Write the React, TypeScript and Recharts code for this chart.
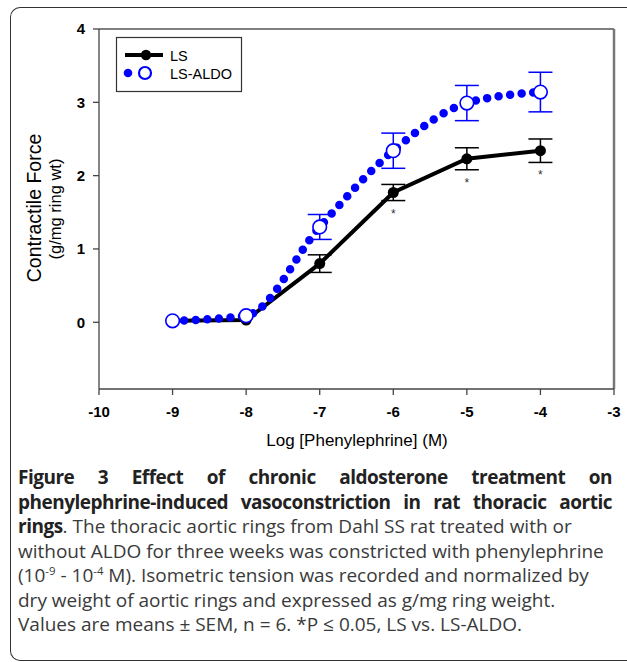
import React from 'react';
import { LineChart, Line, XAxis, YAxis, ErrorBar, ReferenceLine, LabelList } from 'recharts';

const doses = [-9, -8, -7, -6, -5, -4];
const lsMean = [0.02, 0.03, 0.8, 1.77, 2.23, 2.34];
const lsSem = [null, null, 0.12, 0.11, 0.15, 0.16];
const aldoMean = [0.02, 0.09, 1.3, 2.34, 2.99, 3.14];
const aldoSem = [null, null, 0.17, 0.24, 0.24, 0.27];
const sigMarks = ['', '', '', '*', '*', '*'];

const xTicks = [-10, -9, -8, -7, -6, -5, -4, -3];
const yTicks = [0, 1, 2, 3, 4];

const data = doses.map((d, i) => ({
  x: d,
  ls: lsMean[i],
  lsErr: lsSem[i],
  aldo: aldoMean[i],
  aldoErr: aldoSem[i],
  sigY: sigMarks[i] ? lsMean[i] - (lsSem[i] ?? 0) : null,
  sig: sigMarks[i],
}));

const FONT = '"Liberation Sans", Arial, sans-serif';
const BLUE = '#0000ff';
const AXIS = '#444';

const StarLabel = (props: any) => {
  const { x, y, value } = props;
  if (!value || y == null) return null;
  return (
    <text x={x} y={y + 17} textAnchor="middle" fontFamily={FONT} fontSize={12} fill="#333">
      {value}
    </text>
  );
};

const openDot = (props: any) => {
  const { cx, cy, index } = props;
  if (cx == null || cy == null) return <g key={`o${index}`} />;
  return <circle key={`o${index}`} cx={cx} cy={cy} r={6.8} fill="#fff" stroke={BLUE} strokeWidth={1.6} />;
};

const blackDot = (props: any) => {
  const { cx, cy, index } = props;
  if (cx == null || cy == null) return <g key={`b${index}`} />;
  return <circle key={`b${index}`} cx={cx} cy={cy} r={5.5} fill="#000" />;
};

export default function App() {
  return (
    <div style={{ position: 'absolute', left: 0, top: 0, width: 627, height: 662, background: '#fff', overflow: 'hidden' }}>
      {/* outer frame */}
      <div
        style={{
          position: 'absolute',
          left: 10,
          top: 7,
          width: 640,
          height: 654,
          borderLeft: '1.5px solid #333',
          borderTop: '1.5px solid #333',
          borderBottom: '1.5px solid #333',
          borderTopLeftRadius: 10,
          borderBottomLeftRadius: 10,
          boxSizing: 'border-box',
        }}
      />
      <div style={{ position: 'absolute', left: 0, top: 0 }}>
        <LineChart width={627} height={460} data={data} margin={{ top: 29, right: 13, bottom: 0, left: 0 }}>
          <XAxis
            type="number"
            dataKey="x"
            domain={[-10, -3]}
            ticks={xTicks}
            allowDataOverflow
            height={71}
            tickSize={6}
            tickMargin={11}
            stroke={AXIS}
            strokeWidth={1.3}
            tick={{ fontFamily: FONT, fontSize: 15, fontWeight: 'bold', fill: '#000' }}
          />
          <YAxis
            type="number"
            domain={[-0.91, 4]}
            ticks={yTicks}
            allowDataOverflow
            width={99}
            tickSize={6}
            tickMargin={8}
            stroke={AXIS}
            strokeWidth={1.3}
            tick={{ fontFamily: FONT, fontSize: 15, fontWeight: 'bold', fill: '#000' }}
          />
          <ReferenceLine y={4} stroke="#555" strokeWidth={1.3} />
          <ReferenceLine x={-3} stroke="#777" strokeWidth={2.5} />
          <Line
            dataKey="ls"
            type="linear"
            stroke="#000"
            strokeWidth={4}
            dot={blackDot}
            activeDot={false}
            isAnimationActive={false}
          >
            <ErrorBar dataKey="lsErr" width={12} stroke="#000" strokeWidth={1.5} direction="y" />
          </Line>
          <Line
            dataKey="sigY"
            type="linear"
            stroke="none"
            dot={false}
            activeDot={false}
            isAnimationActive={false}
          >
            <LabelList dataKey="sig" content={StarLabel} />
          </Line>
          <Line
            dataKey="aldo"
            type="monotone"
            stroke={BLUE}
            strokeWidth={8.5}
            strokeDasharray="0 11.6"
            strokeLinecap="round"
            dot={false}
            activeDot={false}
            isAnimationActive={false}
          />
          <Line
            dataKey="aldo"
            type="linear"
            stroke="none"
            dot={openDot}
            activeDot={false}
            isAnimationActive={false}
          >
            <ErrorBar dataKey="aldoErr" width={12} stroke={BLUE} strokeWidth={1.5} direction="y" />
          </Line>
        </LineChart>
      </div>

      {/* axis titles and legend */}
      <svg width={627} height={460} style={{ position: 'absolute', left: 0, top: 0, pointerEvents: 'none' }}>
        <text
          x={0}
          y={0}
          transform="translate(41 208) rotate(-90)"
          textAnchor="middle"
          fontFamily={FONT}
          fontSize={19.5}
          fill="#000"
        >
          Contractile Force
        </text>
        <text
          x={0}
          y={0}
          transform="translate(61 209) rotate(-90)"
          textAnchor="middle"
          fontFamily={FONT}
          fontSize={16.5}
          fill="#000"
        >
          (g/mg ring wt)
        </text>
        <text x={357} y={446} textAnchor="middle" fontFamily={FONT} fontSize={17} fill="#000">
          Log [Phenylephrine] (M)
        </text>

        <rect x={116.5} y={37.5} width={125} height={54} fill="#fff" stroke="#333" strokeWidth={1.2} />
        <line x1={125} y1={55} x2={163} y2={55} stroke="#000" strokeWidth={4} />
        <circle cx={146} cy={55} r={5.2} fill="#000" />
        <text x={170} y={60.5} fontFamily={FONT} fontSize={14.5} fill="#000">LS</text>
        <circle cx={128} cy={73} r={4.3} fill={BLUE} />
        <circle cx={145} cy={73} r={6} fill="#fff" stroke={BLUE} strokeWidth={2.2} />
        <text x={170} y={78.5} fontFamily={FONT} fontSize={14.5} fill="#000">LS-ALDO</text>
      </svg>

      {/* caption */}
      <div
        style={{
          position: 'absolute',
          left: 18,
          top: 465,
          width: 594,
          fontFamily: '"Open Sans", sans-serif',
          fontSize: 19,
          lineHeight: '24.5px',
          color: '#3a3a3a',
        }}
      >
        <div style={{ textAlign: 'justify', textAlignLast: 'justify', fontWeight: 'bold', color: '#222', whiteSpace: 'nowrap', letterSpacing: -0.5 }}>
          Figure 3 Effect of chronic aldosterone treatment on
        </div>
        <div style={{ textAlign: 'justify', textAlignLast: 'justify', fontWeight: 'bold', color: '#222', whiteSpace: 'nowrap', letterSpacing: -0.5 }}>
          phenylephrine-induced vasoconstriction in rat thoracic aortic
        </div>
        <div style={{ whiteSpace: 'nowrap' }}>
          <b style={{ color: '#222', letterSpacing: -0.5 }}>rings</b>. The thoracic aortic rings from Dahl SS rat treated with or
        </div>
        <div style={{ whiteSpace: 'nowrap' }}>without ALDO for three weeks was constricted with phenylephrine</div>
        <div style={{ whiteSpace: 'nowrap' }}>
          (10<sup style={{ fontSize: '0.6em', lineHeight: 0 }}>-9</sup> - 10
          <sup style={{ fontSize: '0.6em', lineHeight: 0 }}>-4</sup> M). Isometric tension was recorded and normalized by
        </div>
        <div style={{ whiteSpace: 'nowrap' }}>dry weight of aortic rings and expressed as g/mg ring weight.</div>
        <div style={{ whiteSpace: 'nowrap' }}>Values are means ± SEM, n = 6. *P ≤ 0.05, LS vs. LS-ALDO.</div>
      </div>
    </div>
  );
}
